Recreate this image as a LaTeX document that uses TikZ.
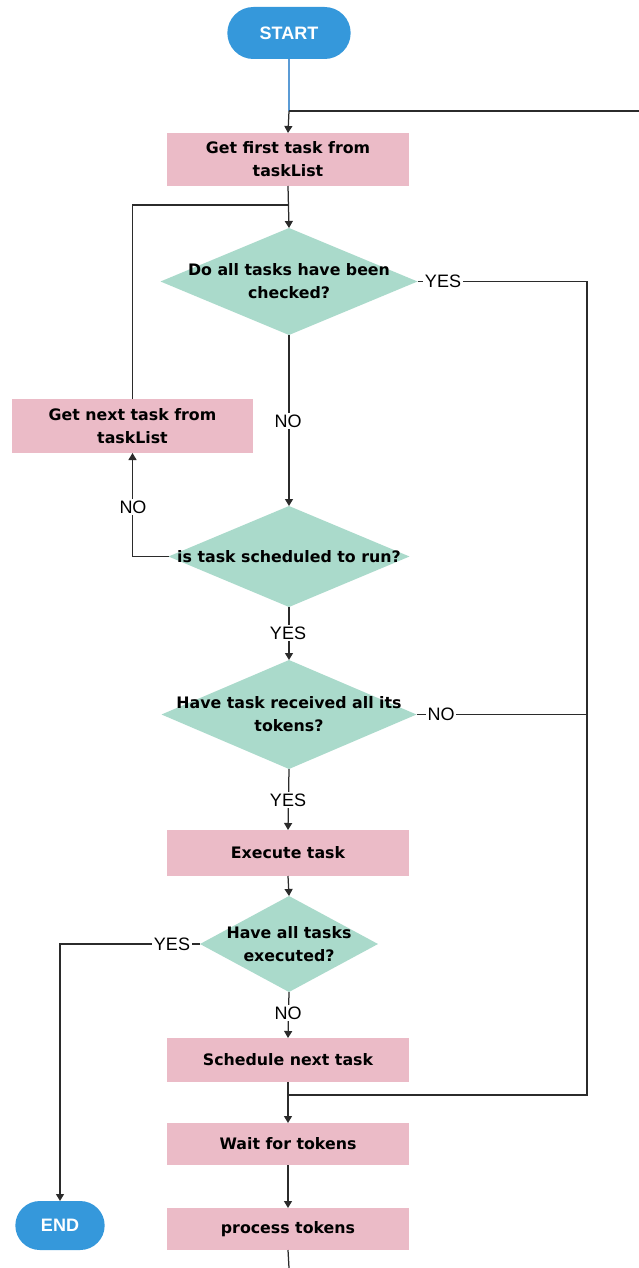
\documentclass[tikz,border=0pt]{standalone}
\usepackage{fontspec}
\setmainfont{DejaVu Sans}
\newfontfamily\lblfont{Liberation Sans}
\usetikzlibrary{shapes.geometric,shapes.misc,arrows.meta}
\definecolor{termblue}{HTML}{3598DB}
\definecolor{procpink}{HTML}{EBBBC7}
\definecolor{decgreen}{HTML}{AADACB}
\definecolor{wire}{HTML}{2B2B2B}
\definecolor{startwire}{HTML}{5B9BD5}
\begin{document}
\begin{tikzpicture}[x=1pt,y=-1pt,
  every node/.style={outer sep=0pt},
  term/.style={rounded rectangle, fill=termblue, text=white, minimum width=130, minimum height=52,
    font=\lblfont\bfseries\fontsize{18}{20}\selectfont},
  proc/.style={rectangle, fill=procpink, minimum width=242, align=center,
    font=\bfseries\fontsize{15.8}{23}\selectfont},
  dec/.style={diamond, fill=decgreen, inner sep=0pt},
  dtext/.style={align=center, font=\bfseries\fontsize{15.8}{23}\selectfont},
  lbl/.style={fill=white, inner sep=1.5pt, font=\lblfont\fontsize{18}{20}\selectfont},
  wireline/.style={draw=wire, line width=1.25pt},
  arr/.style={wireline, -{Triangle[width=8pt,length=7pt]}}
]
\useasboundingbox (0,0) rectangle (639,1268);

% terminals
\node[term] (start) at (289,33) {START};
\node[term, minimum width=96, minimum height=49] (end) at (60,1225.5) {END};

% process boxes
\node[proc, minimum height=53] (first) at (288,159.5) {Get first task from\\taskList};
\node[proc, minimum width=241, minimum height=54] (next) at (132.5,426) {Get next task from\\taskList};
\node[proc, minimum height=46] (exec) at (288,853) {Execute task};
\node[proc, minimum height=44] (sched) at (288,1060) {Schedule next task};
\node[proc, minimum height=42] (wait) at (288,1144) {Wait for tokens};
\node[proc, minimum height=42] (ptok) at (288,1229) {process tokens};

% decisions
\node[dec, minimum width=257, minimum height=107] (d1) at (289,281.5) {};
\node[dtext] (d1t) at (d1) {Do all tasks have been\\checked?};
\node[dec, minimum width=241, minimum height=101] (d2) at (289,556.5) {};
\node[dtext] (d2t) at (d2) {is task scheduled to run?};
\node[dec, minimum width=255, minimum height=109] (d3) at (289,714.5) {};
\node[dtext] (d3t) at (d3) {Have task received all its\\tokens?};
\node[dec, minimum width=178, minimum height=96] (d4) at (289,944) {};
\node[dtext] (d4t) at (d4) {Have all tasks\\executed?};

% junction points
\coordinate (j0) at (289,111);
\coordinate (j1) at (289,205);
\coordinate (j5) at (289,1095);
\coordinate (rbus) at (587,281.5);
\coordinate (rbot) at (587,1095);
\coordinate (topexit) at (639,111);
\coordinate (botexit) at (289,1268);

% connectors
\draw[draw=startwire, line width=1.25pt] (start.south) -- (j0);
\draw[arr] (j0) -- (first.north);
\draw[wireline] (j0) -- (topexit);

\draw[arr] (first.south) -- (d1.north);
\draw[wireline] (next.north) |- (j1);

\draw[wireline] (d1.east) -- (rbus) -- (rbot) -- (j5);
\node[lbl] (yes1) at (443,281.5) {YES};

\draw[arr] (d1.south) -- (d2.north);
\node[lbl] (no1) at (288,421) {NO};

\draw[arr] (d2.west) -| (next.south);
\node[lbl] (no2) at (133,507) {NO};

\draw[arr] (d2.south) -- (d3.north);
\node[lbl] (yes2) at (288,633) {YES};

\draw[wireline] (d3.east) -- (587,714.5);
\node[lbl] (no3) at (441,714.5) {NO};

\draw[arr] (d3.south) -- (exec.north);
\node[lbl] (yes3) at (288,800) {YES};

\draw[arr] (exec.south) -- (d4.north);

\draw[arr] (d4.west) -| (end.north);
\node[lbl] (yes4) at (172,944) {YES};

\draw[arr] (d4.south) -- (sched.north);
\node[lbl] (no4) at (288,1013) {NO};

\draw[arr] (sched.south) -- (wait.north);
\draw[arr] (wait.south) -- (ptok.north);
\draw[wireline] (ptok.south) -- (botexit);
\end{tikzpicture}
\end{document}
